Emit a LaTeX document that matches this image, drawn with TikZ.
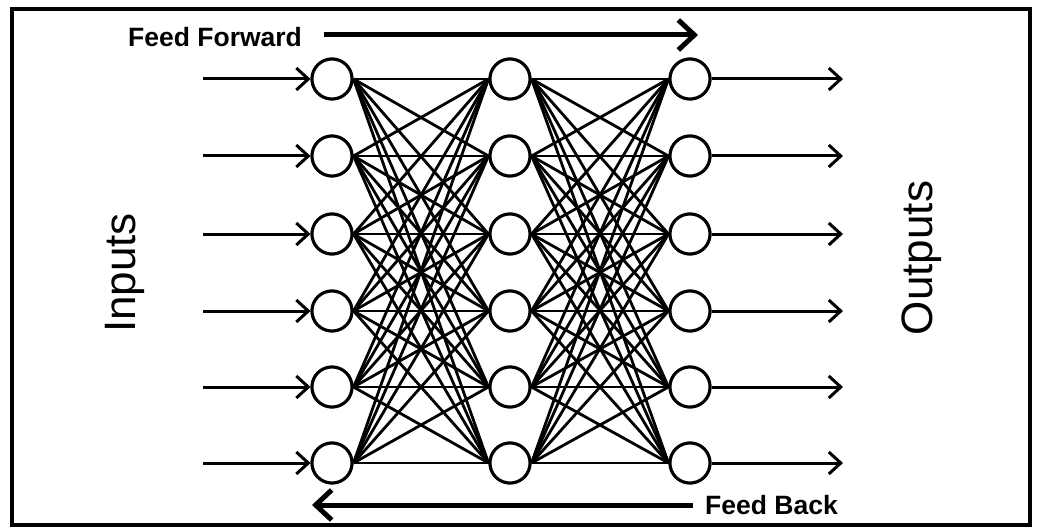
\documentclass[tikz,border=0pt]{standalone}
\usepackage{fontspec}
\setmainfont{Liberation Sans}
\usetikzlibrary{arrows.meta}
\begin{document}
\begin{tikzpicture}[x=1pt,y=-1pt,
  neuron/.style={circle,draw,line width=3pt,minimum size=40pt,inner sep=0pt,fill=white},
  link/.style={line width=2.8pt},
  io/.style={line width=3pt,-{Straight Barb[length=12pt,width=22pt,line width=3pt]}},
  flow/.style={line width=5pt,-{Straight Barb[length=16pt,width=30pt,line width=5pt]}},
  lbl/.style={font=\bfseries\fontsize{26.5}{30}\selectfont,inner sep=0pt},
  side/.style={font=\fontsize{44}{50}\selectfont,inner sep=0pt,rotate=90}]
\useasboundingbox (0,0) rectangle (1037,532);
\draw[line width=3.5pt] (12,9) rectangle (1030,525);
% neurons
\foreach \r/\y in {1/79,2/156,3/234,4/311,5/387,6/463}{
  \node[neuron] (a\r) at (332,\y) {};
  \node[neuron] (b\r) at (510,\y) {};
  \node[neuron] (c\r) at (690,\y) {};
  \coordinate (in\r) at (203,\y);
  \coordinate (out\r) at (843,\y);
}
% connections
\foreach \i in {1,...,6}{
  \foreach \j in {1,...,6}{
    \draw[link] (a\i.east) -- (b\j.west);
    \draw[link] (b\i.east) -- (c\j.west);
  }
}
\foreach \r in {1,...,6}{
  \node[neuron] at (a\r) {};
  \node[neuron] at (b\r) {};
  \node[neuron] at (c\r) {};
  \draw[io] (in\r) -- (a\r.west);
  \draw[io] (c\r.east) -- (out\r);
}
% labels
\node[lbl,anchor=west] (ff) at (128,37) {Feed Forward};
\coordinate (ffend) at (698,35);
\draw[flow] (ff.east)++(22,-2) coordinate (ffstart) -- (ffend);
\node[lbl,anchor=east] (fb) at (838,505) {Feed Back};
\coordinate (fbend) at (312,505);
\draw[flow] ([xshift=-12pt]fb.west) -- (fbend);
\node[side] (inputs) at (125,273) {Inputs};
\node[side] (outputs) at (922,258) {Outputs};
\end{tikzpicture}
\end{document}
